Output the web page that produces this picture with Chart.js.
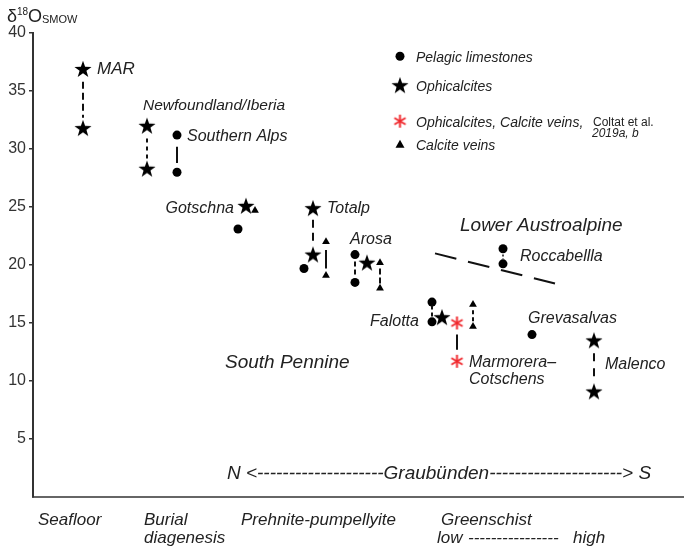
<!DOCTYPE html>
<html>
<head>
<meta charset="utf-8">
<script src="https://cdn.jsdelivr.net/npm/chart.js@4.4.1/dist/chart.umd.min.js"></script>
<style>
  html, body { margin: 0; padding: 0; background: #fff; }
</style>
</head>
<body>
<canvas id="chart" width="685" height="547"></canvas>
<script>
// d18O (SMOW) values; x is just position along the plot (0-65)
const yTicks = [5, 10, 15, 20, 25, 30, 35, 40];

// Pelagic limestones
const limestoneX = [14.4, 14.4, 20.5, 27.1, 32.2, 32.2, 39.9, 39.9, 47.0, 47.0, 49.9];
const limestoneY = [31.2, 28.0, 23.1, 19.7, 20.9, 18.5, 16.8, 15.1, 21.4, 20.1, 14.0];

// Ophicalcites
const ophiX = [5.0, 5.0, 11.4, 11.4, 21.3, 28.0, 28.0, 33.4, 40.9, 56.1, 56.1];
const ophiY = [36.9, 31.8, 32.0, 28.3, 25.1, 24.9, 20.9, 20.2, 15.5, 13.5, 9.1];

// Ophicalcites, calcite veins (Coltat et al. 2019a, b)
const coltatX = [42.4, 42.4];
const coltatY = [15.0, 11.7];

// Calcite veins
const veinX = [22.2, 29.3, 29.3, 34.7, 34.7, 44.0, 44.0];
const veinY = [24.7, 22.0, 19.1, 20.2, 18.0, 16.6, 14.7];

// vertical tie lines between paired samples
const tieX    = [5.0, 11.4, 14.4, 28.0, 29.3, 32.2, 34.7, 39.9, 42.4, 44.0, 47.0, 56.1];
const tieFrom = [35.8, 30.9, 30.2, 23.9, 21.3, 20.3, 19.7, 16.5, 14.0, 16.1, 20.9, 12.4];
const tieTo   = [32.7, 28.9, 28.8, 21.9, 19.7, 19.1, 18.4, 15.5, 12.7, 15.1, 20.5, 10.1];

// Lower Austroalpine / South Pennine boundary
const boundaryX = [40.2, 52.2];
const boundaryY = [21.0, 18.4];

// text on the plot: [text, x, y]
const siteLabels = [
    ['MAR', 6.4, 36.9],
    ['Newfoundland/Iberia', 11.0, 33.7],
    ['Southern Alps', 15.4, 31.1],
    ['Gotschna', 20.1, 24.9],
    ['Totalp', 29.4, 24.9],
    ['Arosa', 31.7, 22.2],
    ['Roccabellla', 48.7, 20.7],
    ['Falotta', 33.7, 15.1],
    ['Grevasalvas', 49.5, 15.4],
    ['Marmorera\u2013', 43.6, 11.6],
    ['Cotschens', 43.6, 10.1],
    ['Malenco', 57.2, 11.4]
];
const regionLabels = [
    ['Lower Austroalpine', 42.7, 23.4],
    ['South Pennine', 19.2, 11.6]
];
const bottomLabels = [
    ['Seafloor', 0.5, -1.98],
    ['Burial', 11.1, -1.98],
    ['diagenesis', 11.1, -3.53],
    ['Prehnite-pumpellyite', 20.8, -1.98],
    ['Greenschist', 40.8, -1.98],
    ['low', 40.4, -3.53],
    ['----------------', 43.5, -3.53],
    ['high', 54.0, -3.53]
];
const legendItems = ['Pelagic limestones', 'Ophicalcites', 'Ophicalcites, Calcite veins,', 'Calcite veins'];
const legendY = [38.0, 35.5, 32.4, 30.4];

// styling
const tieDash = [[7, 4], [4, 4], [], [8, 5], [], [5, 3], [6, 3], [4, 3], [], [4, 3], [2, 2], [8, 7]];
const FONT = '"Liberation Sans", Arial, sans-serif';
const TEXT = '#222';
const RED = '#f0282d';

function makeStar(r, color) {
    const c = document.createElement('canvas');
    const s = Math.ceil(r * 2 + 2);
    c.width = c.height = s;
    const g = c.getContext('2d');
    g.translate(s / 2, s / 2 + r * 0.08);
    g.beginPath();
    for (let i = 0; i < 10; i++) {
        const rad = i % 2 ? r * 0.4 : r;
        const a = -Math.PI / 2 + i * Math.PI / 5;
        g.lineTo(rad * Math.cos(a), rad * Math.sin(a));
    }
    g.closePath();
    g.fillStyle = color;
    g.fill();
    return c;
}

function makeAsterisk(r, color) {
    const c = document.createElement('canvas');
    const s = Math.ceil(r * 2 + 4);
    c.width = c.height = s;
    const g = c.getContext('2d');
    g.translate(s / 2, s / 2);
    g.strokeStyle = color;
    g.lineWidth = 2;
    g.lineCap = 'butt';
    [90, 30, 150].forEach(deg => {
        const a = deg * Math.PI / 180;
        g.beginPath();
        g.moveTo(-r * Math.cos(a), -r * Math.sin(a));
        g.lineTo(r * Math.cos(a), r * Math.sin(a));
        g.stroke();
    });
    return c;
}

const starImg = makeStar(9, '#000');
const asteriskImg = makeAsterisk(6.5, RED);

function points(xs, ys) {
    return xs.map((x, i) => ({ x: x, y: ys[i] }));
}

const datasets = [];

tieX.forEach((x, i) => {
    datasets.push({
        type: 'line',
        data: [{ x: x, y: tieFrom[i] }, { x: x, y: tieTo[i] }],
        borderColor: '#111',
        borderWidth: i === 10 ? 1.5 : 2,
        borderDash: tieDash[i],
        pointRadius: 0,
        fill: false
    });
});

datasets.push({
    type: 'line',
    data: points(boundaryX, boundaryY),
    borderColor: '#111',
    borderWidth: 2,
    borderDash: [22, 12],
    pointRadius: 0,
    fill: false
});

datasets.push({
    label: 'Pelagic limestones',
    data: points(limestoneX, limestoneY),
    pointStyle: 'circle',
    pointRadius: 4.5,
    backgroundColor: '#000',
    borderColor: '#000',
    borderWidth: 0
});
datasets.push({
    label: 'Ophicalcites',
    data: points(ophiX, ophiY),
    pointStyle: starImg,
    pointRadius: 9
});
datasets.push({
    label: 'Ophicalcites, Calcite veins',
    data: points(coltatX, coltatY),
    pointStyle: asteriskImg,
    pointRadius: 6
});
datasets.push({
    label: 'Calcite veins',
    data: points(veinX, veinY),
    pointStyle: 'triangle',
    pointRadius: 4.5,
    backgroundColor: '#000',
    borderColor: '#000',
    borderWidth: 0
});

function put(ctx, txt, x, y, size, opts) {
    opts = opts || {};
    ctx.font = (opts.upright ? '' : 'italic ') + size + 'px ' + FONT;
    ctx.fillStyle = opts.color || TEXT;
    ctx.textAlign = opts.align || 'left';
    ctx.textBaseline = 'middle';
    ctx.fillText(txt, x, y);
}

const annotations = {
    id: 'annotations',
    afterDraw(chart) {
        const ctx = chart.ctx;
        const xs = chart.scales.x, ys = chart.scales.y;
        const px = v => xs.getPixelForValue(v);
        const py = v => ys.getPixelForValue(v);
        ctx.save();

        siteLabels.forEach(([t, x, y]) => {
            const size = t === 'MAR' ? 17 : (t === 'Newfoundland/Iberia' ? 15.5 : 16);
            put(ctx, t, px(x), py(y), size, { align: t === 'Gotschna' ? 'right' : 'left' });
        });
        regionLabels.forEach(([t, x, y]) => put(ctx, t, px(x), py(y), 19));
        bottomLabels.forEach(([t, x, y]) => put(ctx, t, px(x), py(y), 17));

        // N <---- Graubunden ----> S
        put(ctx, 'N <--------------------Graub\u00fcnden---------------------> S',
            px(40.6), py(1.98), 19, { align: 'center' });

        // legend
        const mx = px(36.7), tx = px(38.3);
        ctx.fillStyle = '#000';
        ctx.beginPath();
        ctx.arc(mx, py(legendY[0]), 4.5, 0, Math.PI * 2);
        ctx.fill();
        ctx.drawImage(starImg, mx - starImg.width / 2, py(legendY[1]) - starImg.height / 2);
        ctx.drawImage(asteriskImg, mx - asteriskImg.width / 2, py(legendY[2]) - asteriskImg.height / 2);
        const ty = py(legendY[3]);
        ctx.beginPath();
        ctx.moveTo(mx, ty - 4.5);
        ctx.lineTo(mx + 4.5, ty + 3.5);
        ctx.lineTo(mx - 4.5, ty + 3.5);
        ctx.closePath();
        ctx.fill();
        legendItems.forEach((t, i) => put(ctx, t, tx, py(legendY[i]) + 2, 14));
        put(ctx, 'Coltat et al.', px(56.0), py(legendY[2]) + 2, 12, { upright: true });
        put(ctx, '2019a, b', px(55.9), py(31.3), 12);

        // y axis title: d18O SMOW
        ctx.textAlign = 'left';
        ctx.textBaseline = 'alphabetic';
        ctx.fillStyle = TEXT;
        ctx.font = '18px ' + FONT;
        ctx.fillText('\u03b4', 7, 22);
        ctx.font = '10px ' + FONT;
        ctx.fillText('18', 17, 15);
        ctx.font = '18px ' + FONT;
        ctx.fillText('O', 28, 22);
        ctx.font = '11px ' + FONT;
        ctx.fillText('SMOW', 42, 23);

        ctx.restore();
    }
};

new Chart(document.getElementById('chart'), {
    type: 'scatter',
    data: { datasets: datasets },
    options: {
        responsive: false,
        animation: false,
        events: [],
        layout: { autoPadding: false, padding: { top: 33, right: 2, left: 0, bottom: 0 } },
        plugins: {
            legend: { display: false },
            tooltip: { enabled: false }
        },
        scales: {
            x: {
                type: 'linear',
                min: 0,
                max: 65,
                ticks: { display: false },
                grid: { display: false },
                border: { display: true, color: '#666', width: 2 },
                afterFit: s => { s.height = 50; }
            },
            y: {
                type: 'linear',
                min: 0,
                max: 40,
                ticks: {
                    stepSize: 5,
                    padding: 3,
                    color: '#333',
                    font: { family: FONT, size: 16 }
                },
                afterBuildTicks: s => {
                    s.ticks = yTicks.map(v => ({ value: v }));
                },
                grid: {
                    drawOnChartArea: false,
                    drawTicks: true,
                    tickLength: 4,
                    color: '#333',
                    lineWidth: 1.5
                },
                border: { display: true, color: '#333', width: 2 },
                afterFit: s => { s.width = 33; }
            }
        }
    },
    plugins: [annotations]
});
</script>
</body>
</html>
